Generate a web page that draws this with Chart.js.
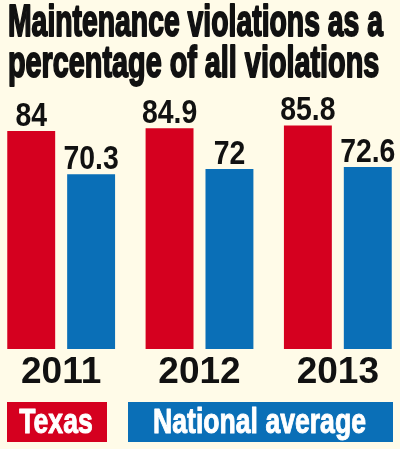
<!DOCTYPE html>
<html>
<head>
<meta charset="utf-8">
<script src="https://cdn.jsdelivr.net/npm/chart.js@4"></script>
<style>
  html, body { margin: 0; padding: 0; background: #fffbe8; overflow: hidden; }
  #wrap { position: absolute; left: -8px; top: 0; width: 415px; height: 449px; }
</style>
</head>
<body>
<div id="wrap"><canvas id="chart" width="415" height="449"></canvas></div>
<script>
const titleLines = ["Maintenance violations as a", "percentage of all violations"];
const years = ["2011", "2012", "2013"];
const seriesNames = ["Texas", "National average"];
const texas = [84, 84.9, 85.8];
const national = [70.3, 72, 72.6];

const RED = "#d5001f";
const BLUE = "#0a6fb7";
const SHIFT = 8; // canvas sits 8px left of the page

// draw horizontally squeezed text (the original uses a condensed face)
function squeezed(ctx, text, x, y, sx, align, stroke) {
  ctx.save();
  ctx.translate(x, y);
  ctx.scale(sx, 1);
  ctx.textAlign = align;
  if (stroke) {
    ctx.lineWidth = stroke;
    ctx.lineJoin = "round";
    ctx.strokeStyle = ctx.fillStyle;
    ctx.strokeText(text, 0, 0);
  }
  ctx.fillText(text, 0, 0);
  ctx.restore();
}

const decor = {
  id: "decor",
  afterDatasetsDraw(chart) {
    const ctx = chart.ctx;

    // title
    ctx.save();
    ctx.fillStyle = "#111";
    ctx.textBaseline = "alphabetic";
    ctx.font = "bold 45px 'Liberation Sans'";
    squeezed(ctx, titleLines[0], 8 + SHIFT, 36, 0.63, "left", 2);
    squeezed(ctx, titleLines[1], 8 + SHIFT, 77, 0.64, "left", 2);
    ctx.restore();

    // value labels
    ctx.save();
    ctx.fillStyle = "#111";
    ctx.font = "bold 33px 'Liberation Sans'";
    ctx.textBaseline = "alphabetic";
    chart.data.datasets.forEach((ds, i) => {
      chart.getDatasetMeta(i).data.forEach((bar, j) => {
        squeezed(ctx, String(ds.data[j]), bar.x, bar.y - 5, 0.86, "center");
      });
    });
    ctx.restore();

    // legend boxes
    const boxes = [{x: 7, w: 100}, {x: 128, w: 265}];
    ctx.save();
    ctx.font = "bold 35px 'Liberation Sans'";
    ctx.textBaseline = "alphabetic";
    chart.data.datasets.forEach((ds, i) => {
      const b = boxes[i];
      ctx.fillStyle = ds.backgroundColor;
      ctx.fillRect(b.x + SHIFT, 402, b.w, 40);
      ctx.fillStyle = "#ffffff";
      squeezed(ctx, ds.label, b.x + SHIFT + b.w / 2 - 1, 433, 0.76, "center", 1);
    });
    ctx.restore();
  }
};

new Chart(document.getElementById("chart"), {
  type: "bar",
  data: {
    labels: years,
    datasets: [
      {label: seriesNames[0], data: texas, backgroundColor: RED},
      {label: seriesNames[1], data: national, backgroundColor: BLUE}
    ]
  },
  options: {
    responsive: false,
    animation: false,
    devicePixelRatio: 1,
    layout: {padding: {top: 90, left: 0, right: 0, bottom: 0}},
    datasets: {
      bar: {categoryPercentage: 0.866, barPercentage: 0.8}
    },
    plugins: {
      legend: {display: false},
      title: {display: false},
      tooltip: {enabled: false}
    },
    scales: {
      x: {
        grid: {display: false, drawTicks: false},
        border: {display: false},
        ticks: {
          color: "#111",
          padding: 2,
          font: {family: "'Liberation Sans'", weight: "bold", size: 37}
        },
        afterFit(scale) { scale.height = 100; }
      },
      y: {
        display: false,
        min: 15,
        max: 97
      }
    }
  },
  plugins: [decor]
});
</script>
</body>
</html>
